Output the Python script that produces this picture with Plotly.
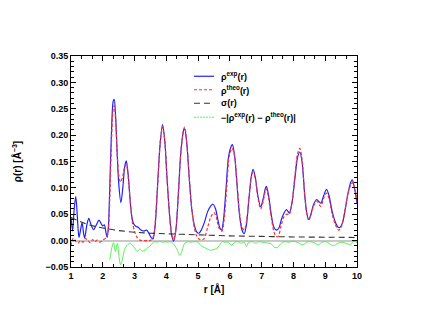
import plotly.graph_objects as go

# rho_exp(r)
r_exp = [1.00,1.05,1.10,1.15,1.20,1.25,1.30,1.35,1.40,1.43,1.50,1.56,1.63,1.71,1.80,1.88,1.95,2.00,2.05,2.10,2.14,2.18,2.22,2.27,2.33,2.36,2.40,2.45,2.50,2.57,2.63,2.69,2.74,2.80,2.87,2.93,2.98,3.05,3.12,3.20,3.30,3.38,3.45,3.52,3.58,3.65,3.72,3.80,3.88,3.95,4.02,4.10,4.17,4.23,4.30,4.38,4.46,4.55,4.58,4.65,4.72,4.80,4.88,4.96,5.02,5.10,5.20,5.30,5.40,5.47,5.55,5.62,5.68,5.74,5.80,5.88,5.96,6.05,6.08,6.15,6.22,6.30,6.38,6.45,6.52,6.60,6.67,6.73,6.80,6.88,6.97,7.05,7.12,7.15,7.22,7.30,7.38,7.47,7.55,7.62,7.70,7.78,7.87,7.95,8.05,8.13,8.20,8.27,8.35,8.42,8.48,8.55,8.63,8.73,8.86,8.95,9.04,9.12,9.22,9.32,9.40,9.46,9.55,9.63,9.72,9.80,9.85,9.92,10.00]
rho_exp = [0.044,0.018,0.060,0.084,0.045,0.006,0.020,0.034,0.012,0.005,0.030,0.042,0.030,0.021,0.030,0.039,0.032,0.028,0.030,0.015,0.006,0.030,0.100,0.200,0.265,0.268,0.240,0.170,0.110,0.072,0.100,0.140,0.151,0.125,0.070,0.040,0.031,0.027,0.025,0.020,0.018,0.020,0.014,0.006,0.003,0.030,0.100,0.180,0.220,0.190,0.120,0.050,0.010,-0.001,0.020,0.090,0.170,0.210,0.212,0.180,0.120,0.060,0.030,0.016,0.014,0.020,0.035,0.055,0.066,0.069,0.060,0.040,0.025,0.020,0.040,0.100,0.160,0.180,0.182,0.160,0.110,0.050,0.020,0.013,0.030,0.080,0.120,0.135,0.120,0.085,0.064,0.080,0.100,0.103,0.085,0.050,0.026,0.020,0.025,0.040,0.052,0.059,0.052,0.070,0.120,0.158,0.168,0.150,0.090,0.052,0.040,0.050,0.068,0.078,0.071,0.085,0.097,0.085,0.055,0.035,0.026,0.025,0.035,0.060,0.090,0.110,0.115,0.100,0.071]

# rho_theo(r)
r_theo = [1.00,1.05,1.10,1.15,1.22,1.30,1.38,1.45,1.52,1.60,1.68,1.75,1.82,1.90,1.98,2.05,2.11,2.15,2.18,2.22,2.27,2.32,2.36,2.40,2.45,2.50,2.56,2.62,2.69,2.74,2.80,2.87,2.93,3.00,3.08,3.17,3.30,3.42,3.52,3.60,3.68,3.75,3.82,3.88,3.95,4.02,4.10,4.17,4.23,4.30,4.38,4.46,4.55,4.58,4.65,4.72,4.80,4.88,4.96,5.05,5.12,5.20,5.30,5.40,5.50,5.57,5.65,5.75,5.82,5.90,5.98,6.07,6.15,6.22,6.30,6.38,6.45,6.52,6.60,6.67,6.73,6.80,6.88,6.97,7.05,7.12,7.15,7.22,7.30,7.38,7.45,7.52,7.60,7.70,7.78,7.87,7.95,8.05,8.13,8.20,8.27,8.35,8.42,8.48,8.55,8.63,8.73,8.86,8.95,9.04,9.12,9.22,9.32,9.42,9.50,9.60,9.70,9.80,9.86,9.93,10.00]
rho_theo = [-0.010,0.003,0.004,-0.002,-0.005,0.000,-0.003,0.004,0.001,-0.004,0.002,-0.002,0.001,-0.003,0.000,0.003,0.005,0.012,0.023,0.080,0.180,0.245,0.256,0.235,0.170,0.125,0.111,0.120,0.140,0.145,0.120,0.070,0.035,0.018,0.006,0.001,0.000,0.000,0.001,0.010,0.060,0.130,0.195,0.215,0.190,0.120,0.050,0.012,0.002,0.020,0.090,0.170,0.212,0.215,0.180,0.120,0.060,0.025,0.008,0.002,0.001,0.005,0.025,0.045,0.053,0.045,0.025,0.018,0.040,0.100,0.160,0.175,0.160,0.110,0.055,0.025,0.020,0.035,0.080,0.118,0.130,0.117,0.082,0.060,0.075,0.095,0.098,0.080,0.045,0.018,0.008,0.008,0.025,0.045,0.050,0.050,0.070,0.125,0.165,0.175,0.155,0.090,0.050,0.038,0.048,0.065,0.075,0.065,0.080,0.090,0.080,0.050,0.030,0.020,0.025,0.050,0.085,0.105,0.110,0.100,0.075]

# sigma(r)
r_sig = [1.0,1.25,1.5,1.75,2.0,2.5,3.0,3.5,4.0,4.5,5.0,6.0,7.0,8.0,9.0,10.0]
sigma = [0.044,0.037,0.031,0.027,0.024,0.019,0.016,0.014,0.013,0.012,0.011,0.009,0.008,0.007,0.0065,0.006]

# -|rho_exp - rho_theo|
r_diff = [2.22,2.30,2.34,2.40,2.46,2.51,2.56,2.62,2.68,2.75,2.85,2.93,3.00,3.08,3.17,3.25,3.33,3.40,3.48,3.56,3.64,3.72,3.80,3.88,3.96,4.04,4.11,4.22,4.32,4.43,4.50,4.58,4.68,4.78,4.88,5.00,5.08,5.20,5.37,5.50,5.62,5.70,5.76,5.85,5.95,6.05,6.15,6.25,6.35,6.45,6.52,6.60,6.72,6.82,6.92,7.02,7.15,7.30,7.41,7.50,7.60,7.70,7.85,8.00,8.15,8.30,8.42,8.55,8.65,8.78,8.90,9.02,9.12,9.25,9.40,9.55,9.68,9.80,9.90,10.00]
diff = [-0.036,-0.010,-0.004,-0.021,-0.005,-0.030,-0.046,-0.035,-0.018,-0.010,-0.005,-0.008,-0.014,-0.020,-0.016,-0.020,-0.018,-0.014,-0.011,-0.005,-0.002,-0.003,-0.001,-0.004,-0.002,-0.003,-0.002,-0.006,-0.015,-0.028,-0.018,-0.005,-0.002,-0.003,-0.002,-0.003,-0.009,-0.013,-0.018,-0.017,-0.013,-0.006,-0.002,-0.003,-0.003,-0.009,-0.003,-0.002,-0.005,-0.003,-0.011,-0.003,-0.002,-0.005,-0.002,-0.003,-0.004,-0.006,-0.013,-0.013,-0.006,-0.002,-0.003,-0.001,-0.004,-0.008,-0.003,-0.002,-0.004,-0.008,-0.003,-0.002,-0.005,-0.010,-0.005,-0.003,-0.006,-0.007,-0.001,-0.004]

names = ["ρ<sup>exp</sup>(r)", "ρ<sup>theo</sup>(r)", "σ(r)",
         "−|ρ<sup>exp</sup>(r) − ρ<sup>theo</sup>(r)|"]
colors = ["#2020ff", "#ff3030", "#333333", "#44ee44"]
dashes = ["solid", "3px,2px", "6px,4px", "2px,1px"]
widths = [1.2, 1.2, 1.1, 0.9]

FONT = "Liberation Sans, Arial, sans-serif"

fig = go.Figure()
series = [(r_exp, rho_exp, True), (r_theo, rho_theo, True), (r_sig, sigma, False), (r_diff, diff, True)]
for i, (xs, ys, wiggly) in enumerate(series):
    fig.add_trace(go.Scatter(
        x=xs, y=ys, mode="lines", name=names[i], showlegend=False,
        line=dict(color=colors[i], width=widths[i],
                  dash=("solid" if i == 3 else dashes[i]),
                  shape="spline", smoothing=0.8 if wiggly else 1.0)))

# hand-placed legend (tighter row spacing than plotly's built-in legend)
leg_rows = [0.904, 0.840, 0.776, 0.710]
for i, yy in enumerate(leg_rows):
    fig.add_shape(type="line", xref="paper", yref="paper", x0=0.43, x1=0.50, y0=yy, y1=yy,
                  line=dict(color=colors[i], width=widths[i], dash=dashes[i]))
    fig.add_annotation(xref="paper", yref="paper", x=0.518, y=yy, text=names[i],
                       showarrow=False, xanchor="left", yanchor="middle",
                       font=dict(family=FONT, size=9, color="black", weight=700))

axis_common = dict(showline=True, linecolor="black", linewidth=1, mirror="allticks",
                   ticks="inside", ticklen=5, tickcolor="black", showgrid=False,
                   automargin=False,
                   tickfont=dict(family=FONT, size=9, color="black", weight=700))

fig.update_xaxes(range=[1, 10], tick0=1, dtick=1,
                 minor=dict(dtick=1/3, ticks="inside", ticklen=3, tickcolor="black"),
                 title=dict(text="r [Å]", font=dict(family=FONT, size=10, color="black", weight=700),
                            standoff=6),
                 zeroline=False, **axis_common)
fig.update_yaxes(range=[-0.05, 0.35], dtick=0.05, tickformat=".2f",
                 minor=dict(dtick=0.01, ticks="inside", ticklen=3, tickcolor="black"),
                 title=dict(text="ρ(r) [Å<sup>−3</sup>]", font=dict(family=FONT, size=10, color="black", weight=700),
                            standoff=21),
                 zeroline=True, zerolinecolor="#c8c8c8", zerolinewidth=2,
                 **axis_common)

fig.update_layout(
    width=429, height=332,
    margin=dict(l=63, r=80, t=48, b=73),
    paper_bgcolor="white", plot_bgcolor="white",
    showlegend=False,
)

fig.write_html("out.html")
